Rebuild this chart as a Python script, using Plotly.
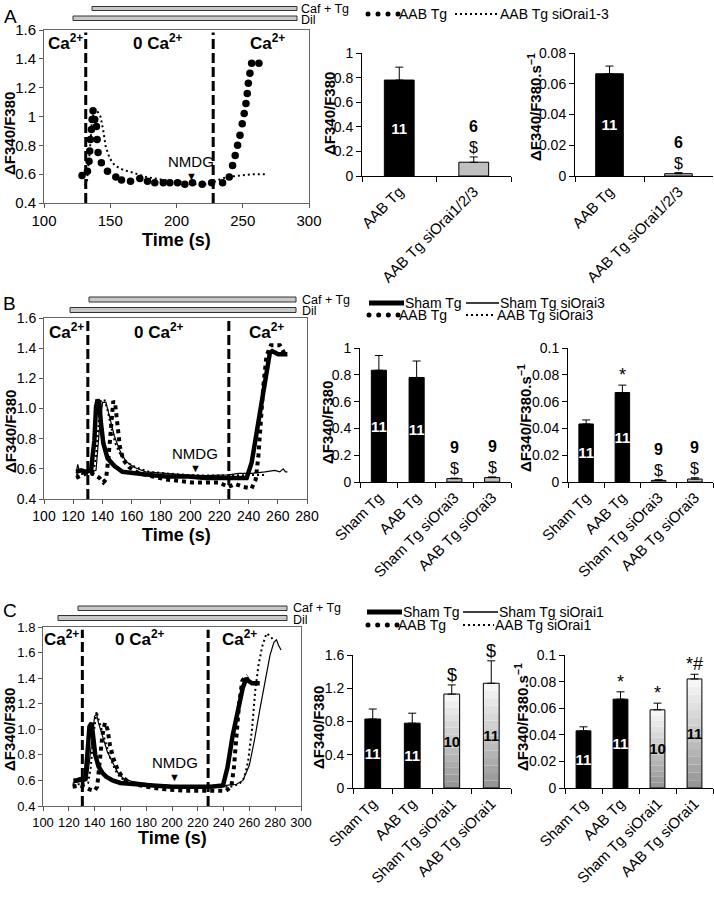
import plotly.graph_objects as go

W, H = 714, 900
FN = "Liberation Sans Narrow, Arial Narrow, Liberation Sans, Arial, sans-serif"
FR = "Liberation Sans, Arial, sans-serif"

# ------------------------------------------------------------------ DATA
# Panel A traces (Time s, dF340/F380)
a_aab_tg_t = [128.7, 132.8, 134.0, 134.5, 135.0, 135.8, 136.3, 137.0, 138.3, 139.6, 140.1, 140.8, 143.3,
              147.9, 154.2, 158.5, 165.3, 172.3, 178.1, 183.6, 190.0, 195.0, 200.8, 206.3, 212.1, 219.4,
              226.5, 234.8, 239.8, 242.3, 244.3, 246.1, 247.9, 249.6, 251.1, 252.4, 253.4, 254.2, 255.4,
              256.7, 262.2]
a_aab_tg_v = [0.59, 0.62, 0.69, 0.76, 0.84, 0.91, 0.98, 1.04, 0.98, 0.93, 0.84, 0.75, 0.68,
              0.62, 0.58, 0.56, 0.55, 0.57, 0.55, 0.54, 0.54, 0.54, 0.54, 0.53, 0.54, 0.53,
              0.54, 0.54, 0.58, 0.66, 0.73, 0.80, 0.87, 0.95, 1.02, 1.09, 1.16, 1.23, 1.30,
              1.37, 1.37]
a_aab_si_t = [130.8, 132.5, 134.5, 136.0, 137.8, 140.8, 142.6, 144.6, 146.6, 149.6, 153.4, 159.7, 167.3,
              177.3, 190.0, 202.6, 215.1, 224.0, 230.2, 237.8, 247.9, 258.0, 266.8]
a_aab_si_v = [0.52, 0.56, 0.75, 0.95, 1.045, 1.03, 1.00, 0.91, 0.79, 0.71, 0.66, 0.63, 0.61,
              0.58, 0.56, 0.55, 0.53, 0.53, 0.555, 0.58, 0.59, 0.60, 0.60]

# Panel B traces
b_sham_t = [122.0, 125.4, 128.8, 132.2, 134.5, 135.6, 136.7, 137.9, 139.0, 140.6, 143.5, 148.1, 153.7,
            160.5, 171.9, 183.2, 196.8, 210.4, 224.0, 233.1, 238.7, 242.1, 245.5, 248.9, 252.3, 254.6,
            256.2, 260.3, 266.6]
b_sham_v = [0.58, 0.59, 0.58, 0.59, 0.79, 1.01, 1.06, 1.03, 0.90, 0.77, 0.67, 0.62, 0.58,
            0.57, 0.56, 0.55, 0.55, 0.54, 0.54, 0.54, 0.54, 0.64, 0.84, 1.06, 1.26, 1.37,
            1.38, 1.36, 1.36]
b_sham_si_t = [122.0, 123.1, 124.3, 127.7, 132.2, 135.6, 137.9, 140.1, 142.4, 144.7, 148.1, 151.5, 156.0,
               161.7, 169.6, 183.2, 196.8, 210.4, 226.3, 233.1, 242.1, 251.2, 258.0, 261.4, 263.7, 265.3,
               266.6]
b_sham_si_v = [0.57, 0.63, 0.58, 0.59, 0.58, 0.59, 0.86, 1.04, 1.04, 0.95, 0.82, 0.73, 0.65,
               0.61, 0.58, 0.57, 0.56, 0.555, 0.56, 0.57, 0.57, 0.58, 0.59, 0.58, 0.60, 0.58,
               0.58]
b_aab_t = [122.0, 126.5, 131.1, 134.5, 137.9, 140.6, 142.4, 144.2, 145.8, 147.4, 148.7, 150.3, 151.9,
           154.2, 158.3, 165.1, 174.1, 183.2, 192.3, 201.3, 210.4, 219.5, 226.3, 230.8, 236.5, 242.1,
           244.9, 246.7, 248.3, 250.1, 252.3, 255.3, 261.4, 264.8, 266.6]
b_aab_v = [0.54, 0.56, 0.58, 0.56, 0.54, 0.51, 0.53, 0.68, 0.90, 1.05, 1.03, 0.86, 0.75,
           0.66, 0.61, 0.57, 0.55, 0.53, 0.52, 0.51, 0.51, 0.51, 0.48, 0.50, 0.48, 0.47,
           0.53, 0.68, 0.90, 1.15, 1.35, 1.42, 1.42, 1.36, 1.36]
b_aab_si_t = [122.0, 128.8, 133.3, 135.6, 137.4, 139.0, 141.3, 143.5, 145.8, 149.2, 152.6, 157.1, 162.8,
              171.9, 183.2, 196.8, 210.4, 224.0, 233.1, 242.1, 251.2]
b_aab_si_v = [0.56, 0.57, 0.56, 0.68, 0.90, 1.05, 1.06, 0.99, 0.88, 0.76, 0.69, 0.64, 0.61,
              0.58, 0.57, 0.56, 0.555, 0.555, 0.56, 0.56, 0.56]

# Panel C traces
c_sham_t = [123.5, 126, 129, 131, 133, 134.5, 136, 137.7, 139, 140.5, 143, 146, 149, 154, 160, 170, 185,
            200, 215, 230, 239.5, 243, 247, 251, 255, 257.8, 259, 262, 268]
c_sham_v = [0.60, 0.60, 0.61, 0.60, 0.62, 0.85, 1.02, 1.05, 0.95, 0.80, 0.71, 0.66, 0.63, 0.60, 0.58,
            0.57, 0.56, 0.55, 0.55, 0.55, 0.56, 0.70, 0.95, 1.15, 1.33, 1.40, 1.38, 1.36, 1.36]
c_aab_t = [123, 128, 132, 136, 140, 142, 144, 146, 148, 150, 152, 155, 158, 162, 168, 180, 195, 210,
           225, 235, 242, 246, 248, 250, 252, 254.5, 256, 258.6]
c_aab_v = [0.55, 0.56, 0.55, 0.53, 0.52, 0.55, 0.75, 0.95, 1.05, 1.00, 0.87, 0.76, 0.68, 0.62, 0.58,
           0.55, 0.53, 0.52, 0.52, 0.52, 0.52, 0.55, 0.70, 0.95, 1.20, 1.38, 1.40, 1.42]
c_sham_si_t = [123, 130, 134, 136, 138, 140, 141.5, 143, 146, 150, 154.5, 158.7, 163, 170, 185, 200,
               220, 240, 250, 255, 260, 264, 268, 272, 276, 279, 281, 282.5, 284.5]
c_sham_si_v = [0.58, 0.59, 0.60, 0.75, 0.95, 1.10, 1.12, 1.05, 0.95, 0.82, 0.73, 0.65, 0.61, 0.59,
               0.57, 0.56, 0.56, 0.56, 0.57, 0.60, 0.72, 0.92, 1.15, 1.38, 1.58, 1.68, 1.70, 1.66, 1.62]
c_aab_si_t = [123, 130, 135, 137, 139, 141.6, 143, 146, 149, 152, 156, 160, 166, 175, 190, 210, 230,
              245, 252, 256, 259, 262, 264.5, 267, 270, 273.3, 276, 278.5]
c_aab_si_v = [0.57, 0.57, 0.58, 0.70, 0.95, 1.14, 1.08, 0.98, 0.87, 0.78, 0.68, 0.62, 0.59, 0.57,
              0.56, 0.55, 0.55, 0.55, 0.57, 0.62, 0.75, 1.00, 1.30, 1.50, 1.65, 1.75, 1.73, 1.70]

# solution switches (s) and NMDG time (s)
a_switch = [131.5, 227.7]
b_switch = [130.0, 226.5]
c_switch = [130.5, 228.0]
a_nmdg, b_nmdg, c_nmdg = 211.3, 203.6, 202.3

# Bar charts
a_cats = ["AAB Tg", "AAB Tg siOrai1/2/3"]
a_amp = [0.78, 0.112]
a_amp_err = [0.105, 0.043]
a_rate = [0.0665, 0.0015]
a_rate_err = [0.005, 0.0007]
a_n = ["11", "6"]
a_amp_sig = ["", "$"]
a_rate_sig = ["", "$"]

b_cats = ["Sham Tg", "AAB Tg", "Sham Tg siOrai3", "AAB Tg siOrai3"]
b_amp = [0.834, 0.78, 0.025, 0.033]
b_amp_err = [0.11, 0.123, 0.004, 0.005]
b_rate = [0.0433, 0.0668, 0.0012, 0.0022]
b_rate_err = [0.003, 0.0055, 0.0005, 0.001]
b_n = ["11", "11", "9", "9"]
b_amp_sig = ["", "", "$", "$"]
b_rate_sig = ["", "*", "$", "$"]

c_cats = ["Sham Tg", "AAB Tg", "Sham Tg siOrai1", "AAB Tg siOrai1"]
c_amp = [0.83, 0.78, 1.13, 1.26]
c_amp_err = [0.12, 0.12, 0.11, 0.27]
c_rate = [0.043, 0.0668, 0.0588, 0.082]
c_rate_err = [0.003, 0.0055, 0.005, 0.0035]
c_n = ["11", "11", "10", "11"]
c_amp_sig = ["", "", "$", "$"]
c_rate_sig = ["", "*", "*", "*#"]

# ------------------------------------------------------------------ HELPERS
def X(p):
    return p / W


def Y(p):
    return 1 - p / H


layout = dict(width=W, height=H, margin=dict(l=0, r=0, t=0, b=0, autoexpand=False), paper_bgcolor="white",
              plot_bgcolor="white", showlegend=False, font=dict(family=FN, size=14, color="black"),
              barmode="overlay", uniformtext=dict(mode=False))
annotations = []
shapes = []
fig = go.Figure()


def ann(**kw):
    kw.setdefault("xanchor", "center")
    kw.setdefault("yanchor", "middle")
    kw.setdefault("showarrow", False)
    kw.setdefault("borderwidth", 0)
    kw.setdefault("borderpad", 0)
    annotations.append(kw)


def axname(n, a):
    return f"{a}axis" if n == 1 else f"{a}axis{n}"


def ref(n, a):
    return a if n == 1 else f"{a}{n}"


def line_axes(n, xpx, ypx, xr, xdt, yr, ytext, fsize):
    layout[axname(n, "x")] = dict(domain=[X(xpx[0]), X(xpx[1])], anchor=ref(n, "y"), range=xr, dtick=xdt,
                                 tick0=100, ticks="outside", ticklen=4, tickcolor="#555", showline=True,
                                 linecolor="#666", linewidth=1, mirror=True, showgrid=False, zeroline=False,
                                 tickfont=dict(size=fsize, family=FN))
    layout[axname(n, "y")] = dict(domain=[Y(ypx[1]), Y(ypx[0])], anchor=ref(n, "x"), range=yr, dtick=0.2,
                                 tick0=0.4, ticks="outside", ticklen=4, tickcolor="#555", showline=True,
                                 linecolor="#666", linewidth=1, mirror=True, showgrid=False, zeroline=False,
                                 tickformat=ytext, tickfont=dict(size=fsize, family=FN))


def bar_axes(n, xpx, ypx, yr, ydt, fsize=15):
    layout[axname(n, "x")] = dict(domain=[X(xpx[0]), X(xpx[1])], anchor=ref(n, "y"), type="category",
                                 tickangle=-45, ticks="outside", ticklen=5, tickson="boundaries",
                                 tickcolor="black", showline=True, linecolor="black", linewidth=1,
                                 showgrid=False, zeroline=False, tickfont=dict(size=fsize, family=FN))
    layout[axname(n, "y")] = dict(domain=[Y(ypx[1]), Y(ypx[0])], anchor=ref(n, "x"), range=yr, dtick=ydt,
                                 ticks="outside", ticklen=5, tickcolor="black", showline=True,
                                 linecolor="black", linewidth=1, showgrid=False, zeroline=False,
                                 tickfont=dict(size=14, family=FN))


def add_line_traces(n, series):
    for t, v, kind in series:
        kw = dict(x=t, y=v, xaxis=ref(n, "x"), yaxis=ref(n, "y"), hoverinfo="skip")
        if kind == "bigdots":
            fig.add_trace(go.Scatter(mode="markers", marker=dict(color="black", size=7.5), **kw))
        elif kind == "dotline":
            fig.add_trace(go.Scatter(mode="lines", line=dict(color="black", width=4, dash="dot"), **kw))
        elif kind == "dotted":
            fig.add_trace(go.Scatter(mode="lines", line=dict(color="black", width=2, dash="2px,3px"), **kw))
        elif kind == "thick":
            fig.add_trace(go.Scatter(mode="lines", line=dict(color="black", width=4.5), **kw))
        else:
            fig.add_trace(go.Scatter(mode="lines", line=dict(color="black", width=1.2), **kw))


def line_decor(n, switches, nmdg, nmdg_y, region_t, region_y, fsize=17):
    for s in switches:
        shapes.append(dict(type="line", xref=ref(n, "x"), yref=ref(n, "y") + " domain", x0=s, x1=s,
                           y0=0.0, y1=0.985, line=dict(color="black", width=3, dash="10px,4px")))
    ann(x=nmdg, y=nmdg_y, xref=ref(n, "x"), yref=ref(n, "y"), text="NMDG", yanchor="bottom", yshift=9,
        font=dict(size=15, family=FN))
    ann(x=nmdg, y=nmdg_y, xref=ref(n, "x"), yref=ref(n, "y"), text="▼", yanchor="bottom", yshift=-3,
        font=dict(size=11, family=FR))
    texts = ["Ca<sup>2+</sup>", "0 Ca<sup>2+</sup>", "Ca<sup>2+</sup>"]
    for t, tx in zip(region_t, texts):
        ann(x=t, y=region_y, xref=ref(n, "x"), yref=ref(n, "y") + " domain", text=tx,
            font=dict(size=fsize, family=FN, weight="bold"))


def grey_level(i, nseg, dark, light):
    g = int(round(dark + (light - dark) * i / (nseg - 1)))
    return f"rgb({g},{g},{g})"


def bar_traces(n, cats, vals, errs, colors, ns, sig, yr, ncol):
    nseg = 14
    grad = [c == "grad" for c in colors]
    if any(grad):
        for i in range(nseg):
            fig.add_trace(go.Bar(x=cats, y=[v / nseg if g else None for v, g in zip(vals, grad)],
                                 base=[v * i / nseg for v in vals], width=0.4, xaxis=ref(n, "x"),
                                 yaxis=ref(n, "y"), hoverinfo="skip",
                                 marker=dict(color=grey_level(i, nseg, 150, 246), line=dict(width=0))))
    solid = ["rgba(0,0,0,0)" if g else c for c, g in zip(colors, grad)]
    inside = [v > 0.3 * yr for v in vals]
    fig.add_trace(go.Bar(x=cats, y=vals, width=0.4, xaxis=ref(n, "x"), yaxis=ref(n, "y"),
                         marker=dict(color=solid, line=dict(color="black", width=1)),
                         text=[nn if ins else "" for nn, ins in zip(ns, inside)],
                         textposition="inside", insidetextanchor="middle", textangle=0,
                         constraintext="none",
                         textfont=dict(size=15, family=FR, color=ncol, weight="bold"),
                         error_y=dict(type="data", symmetric=False, array=errs, arrayminus=[0] * len(errs),
                                      color="black", thickness=1, width=4), hoverinfo="skip"))
    for c, v, e, nn, s, ins in zip(cats, vals, errs, ns, sig, inside):
        if ins:
            if s:
                ann(x=c, y=v + e, xref=ref(n, "x"), yref=ref(n, "y"), text=s, yanchor="bottom", yshift=0,
                    font=dict(size=18, family=FN))
        else:
            ann(x=c, y=v + e, xref=ref(n, "x"), yref=ref(n, "y"), text="<b>" + nn + "</b><br>" + s,
                yanchor="bottom", yshift=1, font=dict(size=16, family=FN))


def treat_bars(caf_px, dil_px, lab_x, fs=12.5):
    for (x0, x1, y0, y1) in (caf_px, dil_px):
        shapes.append(dict(type="rect", xref="paper", yref="paper", x0=X(x0), x1=X(x1), y0=Y(y1), y1=Y(y0),
                           fillcolor="#c8c8c8", line=dict(color="#333", width=1)))
    ann(x=X(lab_x), y=Y((caf_px[2] + caf_px[3]) / 2), xref="paper", yref="paper", text="Caf + Tg",
        xanchor="left", font=dict(size=fs, family=FN))
    ann(x=X(lab_x), y=Y((dil_px[2] + dil_px[3]) / 2 + 1.5), xref="paper", yref="paper", text="Dil",
        xanchor="left", font=dict(size=fs, family=FN))


def legend_item(kind, x0, x1, y, label, fs=14):
    if kind == "thick":
        shapes.append(dict(type="line", xref="paper", yref="paper", x0=X(x0), x1=X(x1), y0=Y(y), y1=Y(y),
                           line=dict(color="black", width=5)))
    elif kind == "thin":
        shapes.append(dict(type="line", xref="paper", yref="paper", x0=X(x0), x1=X(x1), y0=Y(y), y1=Y(y),
                           line=dict(color="black", width=1.3)))
    elif kind == "dotted":
        shapes.append(dict(type="line", xref="paper", yref="paper", x0=X(x0), x1=X(x1), y0=Y(y), y1=Y(y),
                           line=dict(color="black", width=2, dash="2px,3px")))
    else:
        step = (x1 - x0) / 3
        for i in range(4):
            cx = x0 + i * step
            shapes.append(dict(type="circle", xref="paper", yref="paper", x0=X(cx - 2.5), x1=X(cx + 2.5),
                               y0=Y(y + 2.5), y1=Y(y - 2.5), fillcolor="black", line=dict(width=0)))
    ann(x=X(x1 + 1), y=Y(y), xref="paper", yref="paper", text=label, xanchor="left",
        font=dict(size=fs, family=FN))


def text(px, py, s, size, family=FN, angle=0, weight="normal", **kw):
    ann(x=X(px), y=Y(py), xref="paper", yref="paper", text=s, textangle=angle,
        font=dict(size=size, family=family, weight=weight), **kw)


YT = "ΔF340/F380"
YT2 = "ΔF340/F380.s<sup>−1</sup>"

# ------------------------------------------------------------------ PANEL A
line_axes(1, (44, 309), (30, 203), [100, 300], 50, [0.4, 1.6], "", 15)
add_line_traces(1, [(a_aab_si_t, a_aab_si_v, "dotted"), (a_aab_tg_t, a_aab_tg_v, "bigdots")])
line_decor(1, a_switch, a_nmdg, 0.565, [116.4, 186, 269], 0.93)
bar_axes(2, (362, 511), (53, 176), [0, 1], 0.2)
bar_axes(3, (575, 713), (53, 176), [0, 0.08], 0.02)
bar_traces(2, a_cats, a_amp, a_amp_err, ["black", "#c0c0c0"], a_n, a_amp_sig, 1, ["white", "black"])
bar_traces(3, a_cats, a_rate, a_rate_err, ["black", "#c0c0c0"], a_n, a_rate_sig, 0.08, ["white", "black"])
treat_bars((92, 297, 6.5, 10.5), (73, 297, 16, 20.5), 301)
legend_item("dots", 368, 398, 14, "AAB Tg")
legend_item("dotted", 455, 499, 14, "AAB Tg siOrai1-3")
text(10, 16, "A", 19, FR)
text(10, 134, YT, 15, FR, -90, "bold")
text(176, 240, "Time (s)", 18, FN, 0, "bold")
text(329, 114, YT, 15, FR, -90, "bold")
text(534, 107, YT2, 15, FR, -90, "bold")

# ------------------------------------------------------------------ PANEL B
line_axes(4, (44, 307), (318, 499), [100, 280], 20, [0.4, 1.6], ".1f", 14)
add_line_traces(4, [(b_aab_si_t, b_aab_si_v, "dotted"), (b_sham_si_t, b_sham_si_v, "thin"),
                    (b_aab_t, b_aab_v, "dotline"), (b_sham_t, b_sham_v, "thick")])
line_decor(4, b_switch, b_nmdg, 0.585, [115.2, 178.7, 252.3], 0.93)
bar_axes(5, (360, 511), (348, 482), [0, 1], 0.2)
bar_axes(6, (568, 713), (348, 482), [0, 0.1], 0.02)
gb = ["black", "black", "#c0c0c0", "#c0c0c0"]
nb = ["white", "white", "black", "black"]
bar_traces(5, b_cats, b_amp, b_amp_err, gb, b_n, b_amp_sig, 1, nb)
bar_traces(6, b_cats, b_rate, b_rate_err, gb, b_n, b_rate_sig, 0.1, nb)
treat_bars((89, 296, 297, 302), (70, 296, 307.5, 312.5), 302)
legend_item("thick", 369, 404, 303, "Sham Tg")
legend_item("thin", 466, 499, 303, "Sham Tg siOrai3")
legend_item("dots", 369, 398, 315, "AAB Tg")
legend_item("dotted", 466, 496, 315, "AAB Tg siOrai3")
text(9, 304, "B", 19, FR)
text(10, 432, YT, 15, FR, -90, "bold")
text(176, 535, "Time (s)", 18, FN, 0, "bold")
text(327, 423, YT, 15, FR, -90, "bold")
text(524, 418, YT2, 15, FR, -90, "bold")

# ------------------------------------------------------------------ PANEL C
line_axes(7, (43, 301), (627, 806), [100, 300], 20, [0.4, 1.8], ".1f", 13)
add_line_traces(7, [(c_aab_si_t, c_aab_si_v, "dotted"), (c_sham_si_t, c_sham_si_v, "thin"),
                    (c_aab_t, c_aab_v, "dotline"), (c_sham_t, c_sham_v, "thick")])
line_decor(7, c_switch, c_nmdg, 0.60, [114.5, 175, 252.7], 0.94)
bar_axes(8, (353, 511), (655, 788), [0, 1.6], 0.4)
bar_axes(9, (565, 713), (655, 788), [0, 0.1], 0.02)
gc = ["black", "black", "grad", "grad"]
nc = ["white", "white", "black", "black"]
bar_traces(8, c_cats, c_amp, c_amp_err, gc, c_n, c_amp_sig, 1.6, nc)
bar_traces(9, c_cats, c_rate, c_rate_err, gc, c_n, c_rate_sig, 0.1, nc)
treat_bars((78, 287, 606, 610.5), (58, 287, 615.5, 620.5), 293)
legend_item("thick", 367, 402, 612, "Sham Tg")
legend_item("thin", 463, 498, 612, "Sham Tg siOrai1")
legend_item("dots", 368, 397, 625, "AAB Tg")
legend_item("dotted", 463, 494, 625, "AAB Tg siOrai1")
text(10, 610, "C", 19, FR)
text(9, 730, YT, 15, FR, -90, "bold")
text(172, 838, "Time (s)", 18, FN, 0, "bold")
text(318, 728, YT, 15, FR, -90, "bold")
text(521, 717, YT2, 15, FR, -90, "bold")

layout["annotations"] = annotations
layout["shapes"] = shapes
layout["bargap"] = 0.6
fig.update_layout(**layout)
fig.write_html("out.html", config={"displayModeBar": False},
               post_script="document.body.style.margin='0px';")
